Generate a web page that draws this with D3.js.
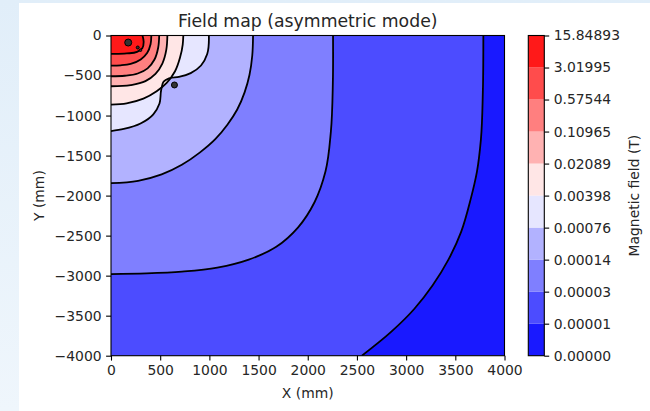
<!DOCTYPE html>
<html>
<head>
<meta charset="utf-8">
<script src="https://cdn.jsdelivr.net/npm/d3@7"></script>
<style>
  body { margin: 0; background: #ffffff; }
  text { font-family: "DejaVu Sans", sans-serif; fill: #262626; }
</style>
</head>
<body>
<svg width="650" height="411"></svg>
<script>
// contour levels (T), log spaced as on the colorbar
var LEVELS = [1e-6, 5.248e-6, 2.754e-5, 1.445e-4, 7.586e-4, 3.981e-3, 0.02089, 0.10965, 0.57544, 3.01995, 15.84893];

// contour lines, [x mm, y mm], outermost first
var LINE_1 = [[3785,0],[3780,-700],[3760,-1300],[3720,-1700],[3655,-2050],[3560,-2450],[3430,-2800],[3270,-3120],[3080,-3420],[2850,-3700],[2550,-4000]];
var LINE_2 = [[2257,0],[2255,-600],[2235,-1200],[2180,-1700],[2070,-2080],[1900,-2400],[1680,-2640],[1400,-2800],[1080,-2900],[720,-2950],[360,-2972],[0,-2980]];
var LINE_3 = [[1444,0],[1436,-250],[1408,-490],[1358,-710],[1283,-925],[1183,-1115],[1060,-1295],[905,-1460],[720,-1615],[515,-1735],[275,-1815],[0,-1844]];
var LINE_4 = [[995,0],[978,-230],[915,-375],[810,-470],[690,-518],[590,-536],[535,-575],[510,-680],[493,-850],[430,-985],[300,-1100],[130,-1168],[0,-1195]];
var LINE_5 = [[735,0],[729,-113],[701,-279],[651,-447],[566,-592],[464,-697],[329,-789],[159,-847],[0,-864]];
var LINE_6 = [[573,0],[562,-180],[522,-350],[452,-480],[350,-570],[200,-620],[0,-634]];
var LINE_7 = [[490,0],[480,-150],[442,-300],[372,-410],[272,-475],[140,-503],[0,-509]];
var LINE_8 = [[410,0],[402,-110],[367,-220],[302,-300],[200,-355],[100,-372],[0,-376]];
var LINE_9 = [[320,0],[332,-80],[318,-160],[265,-205],[160,-224],[0,-229]];
var CONTOURS = [LINE_1, LINE_2, LINE_3, LINE_4, LINE_5, LINE_6, LINE_7, LINE_8, LINE_9];

// tiny closed contours (field peaks)
var PEAKS = [[175,-88],[272,-150],[300,-185],[645,-618]];
var PEAK_R = [3.5, 1.5, 1.2, 3];

var X_TICKS = [0, 500, 1000, 1500, 2000, 2500, 3000, 3500, 4000];
var Y_TICKS = [0, -500, -1000, -1500, -2000, -2500, -3000, -3500, -4000];

var PLOT = {left: 111, right: 504.5, top: 35.5, bottom: 355.7},
    CBAR = {left: 528.3, right: 544.3},
    FONT = 13.9,
    TICK = 4.9,
    ALPHA = 0.9;

var svg = d3.select("svg");

// page frame
svg.append("defs").append("linearGradient")
    .attr("id", "frame")
    .attr("x1", 0).attr("y1", 0).attr("x2", 0).attr("y2", 1)
    .selectAll("stop")
    .data([["0%", "#e1eef9"], ["100%", "#eff6fc"]])
    .join("stop")
    .attr("offset", function(d) { return d[0]; })
    .attr("stop-color", function(d) { return d[1]; });
svg.append("rect")
    .attr("width", 650).attr("height", 411)
    .style("fill", "url(#frame)");
svg.append("rect")
    .attr("x", 19).attr("y", 3)
    .attr("width", 631).attr("height", 408)
    .style("fill", "white");

var x = d3.scaleLinear().domain([0, 4000]).range([PLOT.left, PLOT.right]);
var y = d3.scaleLinear().domain([0, -4000]).range([PLOT.top, PLOT.bottom]);

var bwr = d3.scaleLinear()
    .domain([0, 0.5, 1])
    .range(["#0000ff", "#ffffff", "#ff0000"]);
function bandColor(i) { return bwr(i / (LEVELS.length - 2)); }

svg.append("clipPath")
    .attr("id", "clip")
  .append("rect")
    .attr("x", PLOT.left).attr("y", PLOT.top)
    .attr("width", PLOT.right - PLOT.left)
    .attr("height", PLOT.bottom - PLOT.top);

var field = svg.append("g").attr("clip-path", "url(#clip)");

var line = d3.line()
    .x(function(d) { return x(d[0]); })
    .y(function(d) { return y(d[1]); })
    .curve(d3.curveCatmullRom.alpha(1));

// lowest band covers the whole axes
field.append("rect")
    .attr("x", PLOT.left).attr("y", PLOT.top)
    .attr("width", PLOT.right - PLOT.left)
    .attr("height", PLOT.bottom - PLOT.top)
    .style("fill", bandColor(0))
    .style("fill-opacity", ALPHA);

CONTOURS.forEach(function(pts, i) {
    var last = pts[pts.length - 1];
    var d = line(pts) + "L" + x(0) + "," + y(last[1]) + "L" + x(0) + "," + y(0) + "Z";
    // white underlay so the translucent bands don't stack
    field.append("path").attr("d", d).style("fill", "white");
    field.append("path")
        .attr("d", d)
        .style("fill", bandColor(i + 1))
        .style("fill-opacity", ALPHA);
});

CONTOURS.forEach(function(pts) {
    field.append("path")
        .attr("d", line(pts))
        .style("fill", "none")
        .style("stroke", "black")
        .style("stroke-width", 1.8);
});

field.selectAll(".peak")
    .data(PEAKS)
    .join("circle")
    .attr("class", "peak")
    .attr("cx", function(d) { return x(d[0]); })
    .attr("cy", function(d) { return y(d[1]); })
    .attr("r", function(d, i) { return PEAK_R[i]; })
    .style("fill", "#333")
    .style("stroke", "black")
    .style("stroke-width", 1);

// axes
var num = d3.format("d");
var xAxis = svg.append("g")
    .attr("transform", "translate(0," + PLOT.bottom + ")")
    .call(d3.axisBottom(x).tickValues(X_TICKS).tickFormat(num).tickSize(TICK).tickPadding(4.5).tickSizeOuter(0));
var yAxis = svg.append("g")
    .attr("transform", "translate(" + PLOT.left + ",0)")
    .call(d3.axisLeft(y).tickValues(Y_TICKS).tickFormat(num).tickSize(TICK).tickPadding(4.5).tickSizeOuter(0));
[xAxis, yAxis].forEach(function(a) {
    a.select(".domain").remove();
    a.selectAll("line").style("stroke", "black").style("stroke-width", 1.1);
    a.selectAll("text").style("font-size", FONT + "px").style("fill", "#262626");
});

svg.append("rect")
    .attr("x", PLOT.left).attr("y", PLOT.top)
    .attr("width", PLOT.right - PLOT.left)
    .attr("height", PLOT.bottom - PLOT.top)
    .style("fill", "none")
    .style("stroke", "black")
    .style("stroke-width", 1.1);

svg.append("text")
    .attr("x", (PLOT.left + PLOT.right) / 2)
    .attr("y", 27)
    .style("font-size", "17.3px")
    .style("text-anchor", "middle")
    .text("Field map (asymmetric mode)");
svg.append("text")
    .attr("x", (PLOT.left + PLOT.right) / 2)
    .attr("y", 398)
    .style("font-size", FONT + "px")
    .style("text-anchor", "middle")
    .text("X (mm)");
svg.append("text")
    .attr("transform", "translate(44," + (PLOT.top + PLOT.bottom) / 2 + ") rotate(-90)")
    .style("font-size", FONT + "px")
    .style("text-anchor", "middle")
    .text("Y (mm)");

// colorbar
var cb = d3.scaleLinear().domain([0, LEVELS.length - 1]).range([PLOT.bottom, PLOT.top]);
var fmt = d3.format(".5f");
svg.selectAll(".cband")
    .data(d3.range(LEVELS.length - 1))
    .join("rect")
    .attr("class", "cband")
    .attr("x", CBAR.left)
    .attr("y", function(i) { return cb(i + 1); })
    .attr("width", CBAR.right - CBAR.left)
    .attr("height", function(i) { return cb(i) - cb(i + 1); })
    .style("fill", function(i) { return bandColor(i); })
    .style("fill-opacity", ALPHA);
svg.append("rect")
    .attr("x", CBAR.left).attr("y", PLOT.top)
    .attr("width", CBAR.right - CBAR.left)
    .attr("height", PLOT.bottom - PLOT.top)
    .style("fill", "none")
    .style("stroke", "black")
    .style("stroke-width", 1.1);
var cAxis = svg.append("g")
    .attr("transform", "translate(" + CBAR.right + ",0)")
    .call(d3.axisRight(cb).tickValues(d3.range(LEVELS.length)).tickSize(TICK).tickPadding(4.5)
        .tickFormat(function(i) { return fmt(LEVELS[i]); }));
cAxis.select(".domain").remove();
cAxis.selectAll("line").style("stroke", "black").style("stroke-width", 1.1);
cAxis.selectAll("text").style("font-size", FONT + "px").style("fill", "#262626");

svg.append("text")
    .attr("transform", "translate(639," + (PLOT.top + PLOT.bottom) / 2 + ") rotate(-90)")
    .style("font-size", FONT + "px")
    .style("text-anchor", "middle")
    .text("Magnetic field (T)");
</script>
</body>
</html>
